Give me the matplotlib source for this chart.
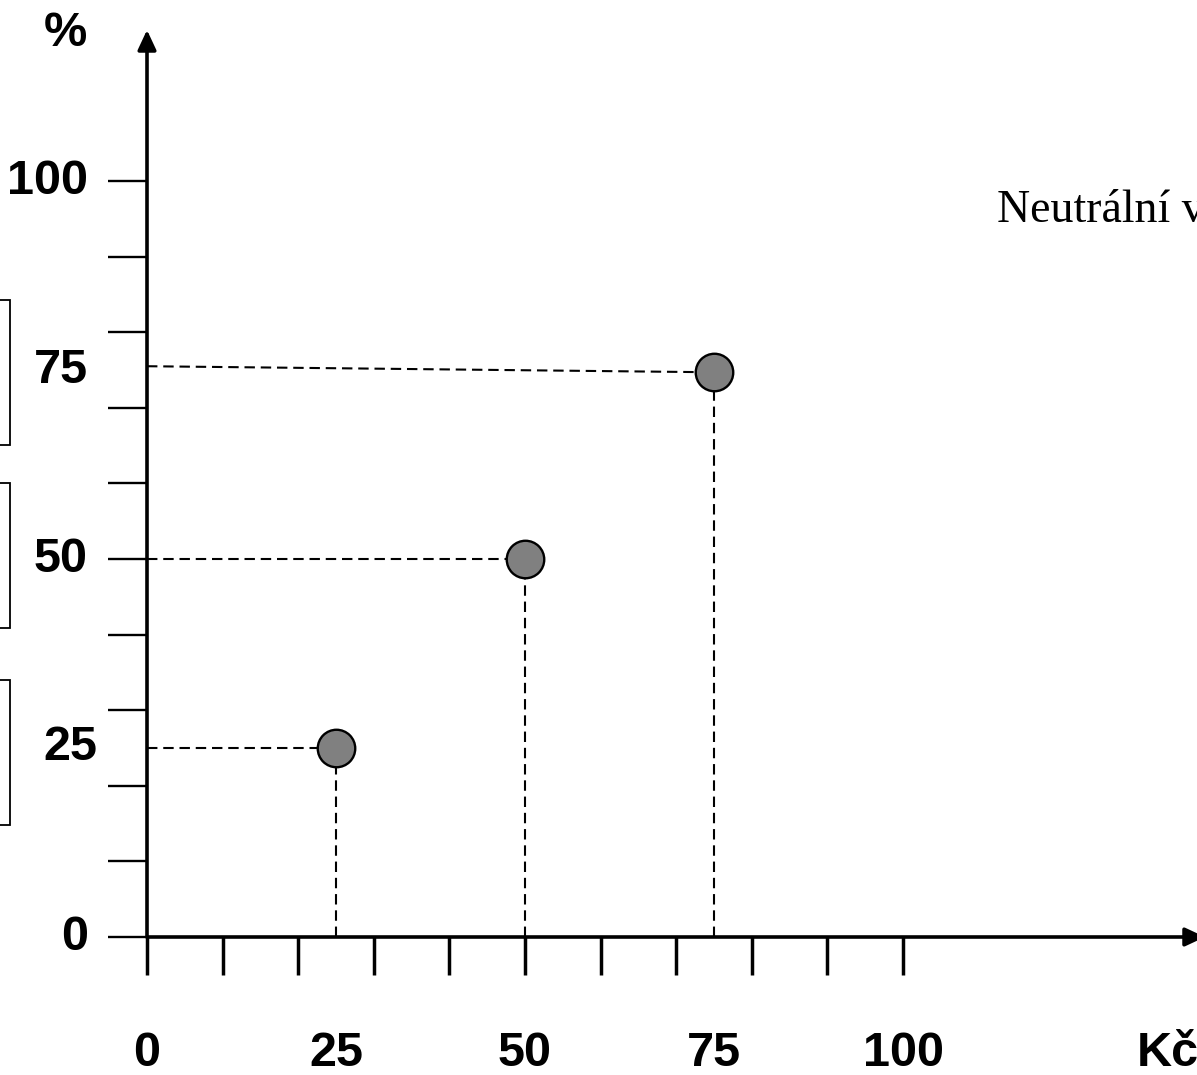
import numpy as np
import matplotlib.pyplot as plt
from matplotlib.patches import Rectangle

# data
pts_x = [25, 50, 75]
pts_y = [25, 50, 74.7]
guide_start_y = [25, 50, 75.5]
y_ticks = np.arange(0, 101, 10)
x_ticks = np.arange(0, 101, 10)
y_labels = ["0", "25", "50", "75", "100"]
y_label_pos = [0, 25, 50, 75, 100]
x_labels = ["0", "25", "50", "75", "100"]
x_label_pos = [0, 25, 50, 75, 100]
box_ranges = [(65.1, 84.3), (40.9, 60.0), (14.8, 34.0)]

### ~~~~~~~~~~~~~~~~~~~~~~~~~~~~~~~~~~~~~~~ ###
W, H = 1197, 1075
px = 7.56  # pixels per unit
ox, oy = 147, 937

fig = plt.figure(figsize=(W / 100, H / 100), dpi=100)
ax = fig.add_axes([0, 0, 1, 1])
ax.set_xlim(-ox / px, (W - ox) / px)
ax.set_ylim(-(H - oy) / px, oy / px)
ax.axis('off')

bold = dict(family='Liberation Sans', weight='bold', size=35, color='black')

# axes with arrows
head = '-|>,head_length=0.6,head_width=0.28'
ax.annotate('', xy=(0, (oy - 30) / px), xytext=(0, 0),
            arrowprops=dict(arrowstyle=head, lw=2.6, color='black',
                            mutation_scale=20, shrinkA=0, shrinkB=0),
            annotation_clip=False)
ax.annotate('', xy=((1205 - ox) / px, 0), xytext=(0, 0),
            arrowprops=dict(arrowstyle=head, lw=2.6, color='black',
                            mutation_scale=20, shrinkA=0, shrinkB=0),
            annotation_clip=False)

# ticks
for v in y_ticks:
    ax.plot([-39 / px, 0], [v, v], color='black', lw=1.7, solid_capstyle='butt')
for v in x_ticks:
    ax.plot([v, v], [0, -38 / px], color='black', lw=2.5, solid_capstyle='butt')

# tick labels
for lab, v in zip(y_labels, y_label_pos):
    xr = (97 - ox) / px if lab == "25" else (88 - ox) / px
    ax.text(xr, v, lab, ha='right', va='center', **bold)
for lab, v in zip(x_labels, x_label_pos):
    ax.text(v, -116 / px, lab, ha='center', va='center', **bold)
ax.text((1137 - ox) / px, -116 / px, 'Kč', ha='left', va='center', **bold)
ax.text((65 - ox) / px, (oy - 34) / px, '%', ha='center', va='center', **bold)

# dashed guides and points
for x, y, y0 in zip(pts_x, pts_y, guide_start_y):
    ax.plot([0, x], [y0, y], color='black', lw=1.5, linestyle=(0, (5, 2.8)))
    ax.plot([x, x], [0, y], color='black', lw=1.5, linestyle=(0, (5, 2.8)))
ax.plot(pts_x, pts_y, 'o', markersize=27, markerfacecolor='#808080',
        markeredgecolor='black', markeredgewidth=1.7, zorder=5)

# partial boxes on the left
for y1, y2 in box_ranges:
    ax.add_patch(Rectangle((-30, y1), (10 - ox) / px + 30, y2 - y1,
                           fill=False, edgecolor='black', lw=1.3))

ax.text((997 - ox) / px, (oy - 222) / px, 'Neutrální v', ha='left',
        va='baseline', family='Liberation Serif', size=33, color='black')

plt.savefig('out.png', dpi=100)
